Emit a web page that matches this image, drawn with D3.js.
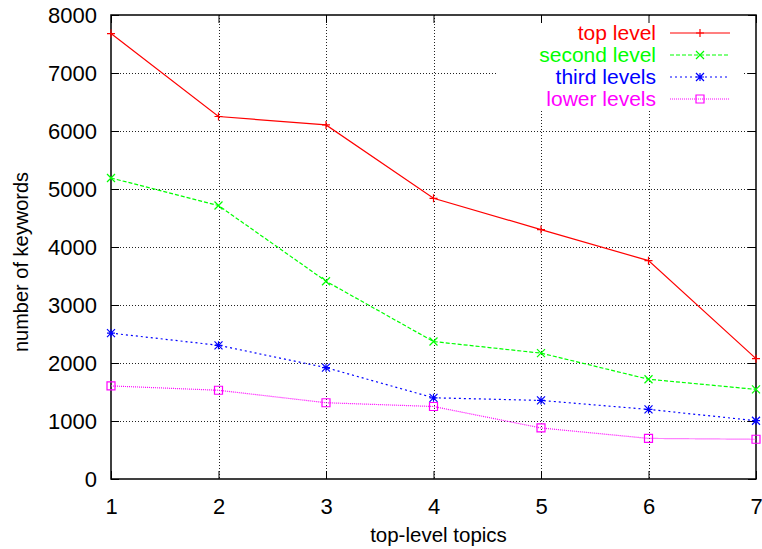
<!DOCTYPE html>
<html>
<head>
  <meta charset="UTF-8">
  <title>Keywords per topic level</title>
  <style>
    body { margin: 0; padding: 0; background: #fff; }
    svg { display: block; }
    text { font-family: "Liberation Sans", Arial, sans-serif; font-size: 20px; }
  </style>
</head>
<body>
  <svg></svg>
  <script src="https://d3js.org/d3.v7.min.js"></script>
  <script>
    // data
    let topics = [1, 2, 3, 4, 5, 6, 7];
    let topLevel = [7680, 6250, 6105, 4840, 4300, 3765, 2075];
    let secondLevel = [5190, 4715, 3410, 2370, 2170, 1720, 1545];
    let thirdLevels = [2515, 2305, 1920, 1400, 1355, 1200, 1005];
    let lowerLevels = [1605, 1530, 1315, 1250, 880, 700, 685];
    let yTicks = [0, 1000, 2000, 3000, 4000, 5000, 6000, 7000, 8000];
    let seriesNames = ["top level", "second level", "third levels", "lower levels"];

    let width = 762, height = 549;
    let margin = { top: 15, right: 6, bottom: 70, left: 111 };
    let w = width - margin.left - margin.right;
    let h = height - margin.top - margin.bottom;

    let svg = d3.select("svg").attr("width", width).attr("height", height);
    let g = svg.append("g").attr("transform", "translate(" + margin.left + "," + margin.top + ")");

    let x = d3.scaleLinear().domain([1, 7]).range([0, w]);
    let y = d3.scaleLinear().domain([0, 8000]).range([h, 0]);

    let series = [
      { name: seriesNames[0], values: topLevel, color: "#ff0000", dash: null, marker: "plus" },
      { name: seriesNames[1], values: secondLevel, color: "#00ff00", dash: "4,2", marker: "cross" },
      { name: seriesNames[2], values: thirdLevels, color: "#0000ff", dash: "2,3", marker: "star" },
      { name: seriesNames[3], values: lowerLevels, color: "#ff00ff", dash: "1,1", marker: "square" }
    ];

    // grid
    let grid = g.append("g").attr("stroke", "#222").attr("stroke-width", 1).attr("stroke-dasharray", "1,2");
    grid.selectAll(".gy").data(yTicks.slice(1, -1)).enter().append("line")
        .attr("x1", 0).attr("x2", w)
        .attr("y1", d => Math.round(y(d)) + 0.5).attr("y2", d => Math.round(y(d)) + 0.5);
    grid.selectAll(".gx").data(topics.slice(1, -1)).enter().append("line")
        .attr("y1", 0).attr("y2", h)
        .attr("x1", d => Math.round(x(d)) + 0.5).attr("x2", d => Math.round(x(d)) + 0.5);

    // legend area clears the grid
    g.append("rect").attr("x", 386).attr("y", 1).attr("width", 245).attr("height", 94).attr("fill", "#fff");

    // axes (gnuplot style: inward ticks, mirrored)
    let tickLen = 8;
    let axisLeft = d3.axisLeft(y).tickValues(yTicks).tickSize(-tickLen).tickPadding(14).tickFormat(d3.format("d"));
    let axisRight = d3.axisRight(y).tickValues(yTicks).tickSize(-tickLen).tickFormat("");
    let axisBottom = d3.axisBottom(x).tickValues(topics).tickSize(-tickLen).tickPadding(19).tickFormat(d3.format("d"));
    let axisTop = d3.axisTop(x).tickValues(topics).tickSize(-tickLen).tickFormat("");

    g.append("g").call(axisLeft);
    g.append("g").attr("transform", "translate(" + w + ",0)").call(axisRight);
    g.append("g").attr("transform", "translate(0," + h + ")").call(axisBottom);
    g.append("g").call(axisTop);

    g.selectAll(".domain").remove();
    g.selectAll(".tick line").attr("stroke", "#000").attr("stroke-width", 1);
    g.selectAll(".tick text").attr("fill", "#000").style("font-size", "22px")
        .style("font-family", "'Liberation Sans', Arial, sans-serif");

    g.append("rect").attr("x", 0).attr("y", 0).attr("width", w).attr("height", h)
        .attr("fill", "none").attr("stroke", "#000").attr("stroke-width", 1.5);

    // axis titles
    svg.append("text").attr("x", margin.left + w / 2 + 5).attr("y", 542)
        .attr("text-anchor", "middle").style("font-size", "20.5px").text("top-level topics");
    svg.append("text").attr("transform", "translate(28," + (margin.top + h / 2 + 15) + ") rotate(-90)")
        .attr("text-anchor", "middle").style("font-size", "20px").text("number of keywords");

    function drawMarker(sel, type, color) {
      let s = 4;
      let p = sel.append("path").attr("fill", "none").attr("stroke", color).attr("stroke-width", 1.2);
      if (type == "plus") p.attr("d", `M${-s},0H${s}M0,${-s}V${s}`);
      else if (type == "cross") p.attr("d", `M${-s},${-s}L${s},${s}M${-s},${s}L${s},${-s}`);
      else if (type == "star") p.attr("d", `M${-s},0H${s}M0,${-s}V${s}M${-s},${-s}L${s},${s}M${-s},${s}L${s},${-s}`);
      else p.attr("d", `M${-s},${-s}H${s}V${s}H${-s}Z`);
    }

    let line = d3.line().x((d, i) => x(topics[i])).y(d => y(d));

    series.forEach(s => {
      g.append("path").datum(s.values)
          .attr("d", line)
          .attr("fill", "none")
          .attr("stroke", s.color)
          .attr("stroke-width", 1.2)
          .attr("stroke-dasharray", s.dash);
      s.values.forEach((v, i) => {
        let m = g.append("g").attr("transform", "translate(" + x(topics[i]) + "," + y(v) + ")");
        drawMarker(m, s.marker, s.color);
      });
    });

    // legend
    let legend = svg.append("g");
    series.forEach((s, i) => {
      let cy = 33 + i * 22;
      legend.append("text").attr("x", 656).attr("y", cy).attr("dy", "0.35em")
          .attr("text-anchor", "end").attr("fill", s.color).style("font-size", "21px").text(s.name);
      legend.append("line").attr("x1", 670).attr("x2", 730).attr("y1", cy).attr("y2", cy)
          .attr("stroke", s.color).attr("stroke-width", 1.2).attr("stroke-dasharray", s.dash);
      let m = legend.append("g").attr("transform", "translate(700," + cy + ")");
      drawMarker(m, s.marker, s.color);
    });
  </script>
</body>
</html>
